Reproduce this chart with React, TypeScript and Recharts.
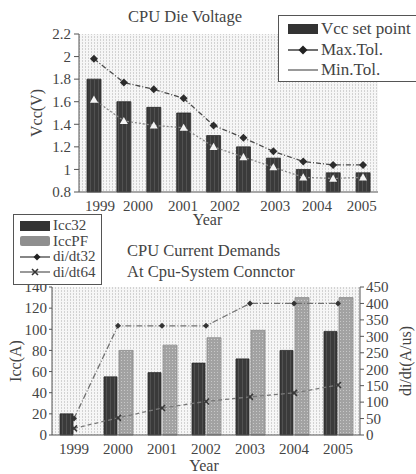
import React from 'react';
import { Bar, CartesianGrid, ComposedChart, Label, Line, XAxis, YAxis } from 'recharts';

const FONT = '"Liberation Serif", "Times New Roman", serif';
const INK = '#444';
const AXIS = '#555';

// CPU Die Voltage (ten releases, year labels sit loosely under them)
const vccSetPoint = [1.8, 1.6, 1.55, 1.5, 1.3, 1.2, 1.1, 1.0, 0.97, 0.97];
const vccMaxTol = [1.98, 1.77, 1.71, 1.63, 1.39, 1.28, 1.16, 1.07, 1.04, 1.04];
const vccMinTol = [1.62, 1.43, 1.39, 1.37, 1.2, 1.11, 1.02, 0.93, 0.92, 0.93];
const vccYearLabels = ['1999', '2000', '2001', '2002', '2003', '2004', '2005'];
const vccYearTickAt = [0.2, 1.47, 2.98, 4.38, 6.06, 7.46, 8.96];
const vccTicks = [0.8, 1, 1.2, 1.4, 1.6, 1.8, 2, 2.2];

// CPU Current Demands
const iccYears = ['1999', '2000', '2001', '2002', '2003', '2004', '2005'];
const icc32 = [20, 55, 59, 68, 72, 80, 98];
const iccPF = [null, 80, 85, 92, 99, 130, 130];
const didt32 = [50, 332, 332, 332, 400, 400, 400];
const didt64 = [20, 52, 82, 102, 116, 128, 152];
const iccTicks = [0, 20, 40, 60, 80, 100, 120, 140];
const didtTicks = [0, 50, 100, 150, 200, 250, 300, 350, 400, 450];

const voltageData = vccSetPoint.map((v, i) => ({
  idx: i,
  vcc: v,
  max: vccMaxTol[i],
  min: vccMinTol[i],
}));

const currentData = iccYears.map((year, i) => ({
  year,
  icc32: icc32[i],
  iccPF: iccPF[i],
  didt32: didt32[i],
  didt64: didt64[i],
}));

const tickStyle = { fontFamily: FONT, fontSize: 15, fill: INK };
const labelStyle = { fontFamily: FONT, fontSize: 16, fill: INK };

const diamond = (cx: number, cy: number, s: number, fill: string, key: string) => (
  <path key={key} d={`M${cx},${cy - s}L${cx + s},${cy}L${cx},${cy + s}L${cx - s},${cy}Z`} fill={fill} />
);

const triangle = (cx: number, cy: number, s: number, fill: string, key: string) => (
  <path key={key} d={`M${cx},${cy - s}L${cx + s},${cy + s * 0.8}L${cx - s},${cy + s * 0.8}Z`} fill={fill} />
);

const cross = (cx: number, cy: number, s: number, stroke: string, key: string) => (
  <path
    key={key}
    d={`M${cx - s},${cy - s}L${cx + s},${cy + s}M${cx + s},${cy - s}L${cx - s},${cy + s}`}
    stroke={stroke}
    strokeWidth={1.6}
    fill="none"
  />
);

const Patterns = ({ prefix }: { prefix: string }) => (
  <defs>
    <pattern id={`${prefix}-bg`} width="3" height="3" patternUnits="userSpaceOnUse">
      <rect width="3" height="3" fill="#f6f6f6" />
      <rect x="1" width="1" height="2" fill="#d2d2d2" />
    </pattern>
    <pattern id={`${prefix}-dark`} width="4" height="4" patternUnits="userSpaceOnUse">
      <rect width="4" height="4" fill="#3a3a3a" />
      <rect x="2" width="1" height="4" fill="#515151" />
    </pattern>
    <pattern id={`${prefix}-light`} width="3" height="3" patternUnits="userSpaceOnUse">
      <rect width="3" height="3" fill="#a2a2a2" />
      <rect x="1" y="1" width="1" height="1" fill="#c8c8c8" />
    </pattern>
  </defs>
);

type LegendRow = { label: string; icon: React.ReactNode };

const LegendBox = ({
  rows,
  style,
  rowHeight,
}: {
  rows: LegendRow[];
  style: React.CSSProperties;
  rowHeight: number;
}) => (
  <div
    style={{
      position: 'absolute',
      boxSizing: 'border-box',
      border: '1.5px solid #555',
      background: '#fff',
      fontFamily: FONT,
      color: INK,
      whiteSpace: 'nowrap',
      ...style,
    }}
  >
    {rows.map((r) => (
      <div
        key={r.label}
        style={{ display: 'flex', alignItems: 'center', height: rowHeight, lineHeight: `${rowHeight}px` }}
      >
        <svg width={30} height={12} style={{ flex: 'none' }}>
          {r.icon}
        </svg>
        <span style={{ marginLeft: 3 }}>{r.label}</span>
      </div>
    ))}
  </div>
);

const voltageLegend: LegendRow[] = [
  { label: 'Vcc set point', icon: <rect x={0} y={1} width={30} height={10} fill="#333" /> },
  {
    label: 'Max.Tol.',
    icon: (
      <g>
        <line x1={0} y1={6} x2={30} y2={6} stroke="#333" strokeWidth={1.4} />
        {diamond(15, 6, 4.5, '#222', 'd')}
      </g>
    ),
  },
  { label: 'Min.Tol.', icon: <line x1={0} y1={6} x2={30} y2={6} stroke="#555" strokeWidth={1.2} /> },
];

const currentLegend: LegendRow[] = [
  { label: 'Icc32', icon: <rect x={0} y={1} width={30} height={10} fill="#333" /> },
  { label: 'IccPF', icon: <rect x={0} y={1} width={30} height={10} rx={2} fill="#8f8f8f" /> },
  {
    label: 'di/dt32',
    icon: (
      <g>
        <line x1={0} y1={6} x2={30} y2={6} stroke="#444" strokeWidth={1.3} />
        {diamond(17, 6, 3.5, '#222', 'd')}
      </g>
    ),
  },
  {
    label: 'di/dt64',
    icon: (
      <g>
        <line x1={0} y1={6} x2={30} y2={6} stroke="#555" strokeWidth={1.2} />
        {cross(15, 6, 3, '#333', 'x')}
      </g>
    ),
  },
];

const VoltageChart = () => (
  <ComposedChart
    width={416}
    height={235}
    data={voltageData}
    margin={{ top: 34, right: 38, left: 0, bottom: 10 }}
  >
    <Patterns prefix="v" />
    <CartesianGrid fill="url(#v-bg)" horizontal={false} vertical={false} />
    <XAxis
      type="number"
      dataKey="idx"
      domain={[-0.5, 9.5]}
      ticks={vccYearTickAt}
      interval={0}
      tickFormatter={(_v: number, i: number) => vccYearLabels[i]}
      tick={tickStyle}
      tickLine={false}
      tickMargin={2}
      height={33}
      axisLine={{ stroke: AXIS }}
    >
      <Label value="Year" position="insideBottom" offset={0} dx={-21} style={labelStyle} />
    </XAxis>
    <YAxis
      domain={[0.8, 2.2]}
      ticks={vccTicks}
      interval={0}
      tickFormatter={(v: number) => String(v)}
      tick={tickStyle}
      width={79}
      tickSize={5}
      tickMargin={3}
      axisLine={{ stroke: AXIS }}
      tickLine={{ stroke: AXIS }}
    >
      <Label value="Vcc(V)" angle={-90} position="center" dx={-3} style={labelStyle} />
    </YAxis>
    <Bar dataKey="vcc" barSize={14} fill="url(#v-dark)" stroke="#2a2a2a" strokeWidth={0.8} isAnimationActive={false} />
    <Line
      dataKey="max"
      stroke="#4a4a4a"
      strokeWidth={1.3}
      strokeDasharray="5 2 1 2"
      dot={(p: any) => diamond(p.cx, p.cy, 4, '#2c2c2c', `mx${p.index}`)}
      isAnimationActive={false}
    />
    <Line
      dataKey="min"
      stroke="#8a8a8a"
      strokeWidth={1.3}
      strokeDasharray="2 2"
      dot={(p: any) => triangle(p.cx, p.cy, 4, '#f4f4f4', `mn${p.index}`)}
      isAnimationActive={false}
    />
  </ComposedChart>
);

const CurrentChart = () => (
  <ComposedChart
    width={416}
    height={274}
    data={currentData}
    margin={{ top: 87, right: 0, left: 0, bottom: 2 }}
    barGap={2}
  >
    <Patterns prefix="c" />
    <CartesianGrid yAxisId="icc" fill="url(#c-bg)" horizontal={false} vertical={false} />
    <XAxis
      dataKey="year"
      tick={tickStyle}
      tickLine={false}
      tickMargin={2}
      height={37}
      axisLine={{ stroke: AXIS }}
    >
      <Label value="Year" position="insideBottom" offset={1} dx={-2} style={labelStyle} />
    </XAxis>
    <YAxis
      yAxisId="icc"
      domain={[0, 140]}
      ticks={iccTicks}
      interval={0}
      tick={tickStyle}
      width={52}
      tickSize={3}
      tickMargin={2}
      axisLine={{ stroke: AXIS }}
      tickLine={{ stroke: AXIS }}
    >
      <Label value="Icc(A)" angle={-90} position="center" dx={-11} style={labelStyle} />
    </YAxis>
    <YAxis
      yAxisId="didt"
      orientation="right"
      domain={[0, 450]}
      ticks={didtTicks}
      interval={0}
      tick={tickStyle}
      width={56}
      tickSize={4}
      tickMargin={2}
      axisLine={{ stroke: AXIS }}
      tickLine={{ stroke: AXIS }}
    >
      <Label value="di/dt(A/us)" angle={-90} position="center" dx={17} style={labelStyle} />
    </YAxis>
    <Bar yAxisId="icc" dataKey="icc32" barSize={13} fill="url(#c-dark)" stroke="#2a2a2a" strokeWidth={0.8} isAnimationActive={false} />
    <Bar yAxisId="icc" dataKey="iccPF" barSize={14} fill="url(#c-light)" stroke="#8a8a8a" strokeWidth={0.8} isAnimationActive={false} />
    <Line
      yAxisId="didt"
      dataKey="didt32"
      stroke="#707070"
      strokeWidth={1.3}
      strokeDasharray="6 2 1 2"
      dot={(p: any) => diamond(p.cx, p.cy, 3, '#333', `a${p.index}`)}
      isAnimationActive={false}
    />
    <Line
      yAxisId="didt"
      dataKey="didt64"
      stroke="#7a7a7a"
      strokeWidth={1.3}
      strokeDasharray="4 3"
      dot={(p: any) => cross(p.cx, p.cy, 3, '#3a3a3a', `b${p.index}`)}
      isAnimationActive={false}
    />
  </ComposedChart>
);

export default function App() {
  return (
    <div
      style={{
        position: 'absolute',
        left: 0,
        top: 0,
        width: 416,
        height: 474,
        overflow: 'hidden',
        background: '#fff',
        fontFamily: FONT,
        color: INK,
      }}
    >
      <div style={{ position: 'absolute', left: 0, top: 200 }}>
        <CurrentChart />
      </div>
      <div style={{ position: 'absolute', left: 0, top: 0 }}>
        <VoltageChart />
      </div>

      <div style={{ position: 'absolute', left: 128, top: 7, fontSize: 16.5, lineHeight: '20px' }}>
        CPU Die Voltage
      </div>
      <div style={{ position: 'absolute', left: 127, top: 240, fontSize: 16.5, lineHeight: '21px' }}>
        CPU Current Demands
        <br />
        At Cpu-System Connctor
      </div>

      <LegendBox
        rows={voltageLegend}
        rowHeight={20.5}
        style={{ left: 278, top: 15, width: 150, height: 67, paddingTop: 3, paddingLeft: 9, fontSize: 17 }}
      />
      <LegendBox
        rows={currentLegend}
        rowHeight={15.5}
        style={{ left: 13, top: 214, width: 89, height: 71, paddingTop: 3, paddingLeft: 6, fontSize: 15 }}
      />
    </div>
  );
}
